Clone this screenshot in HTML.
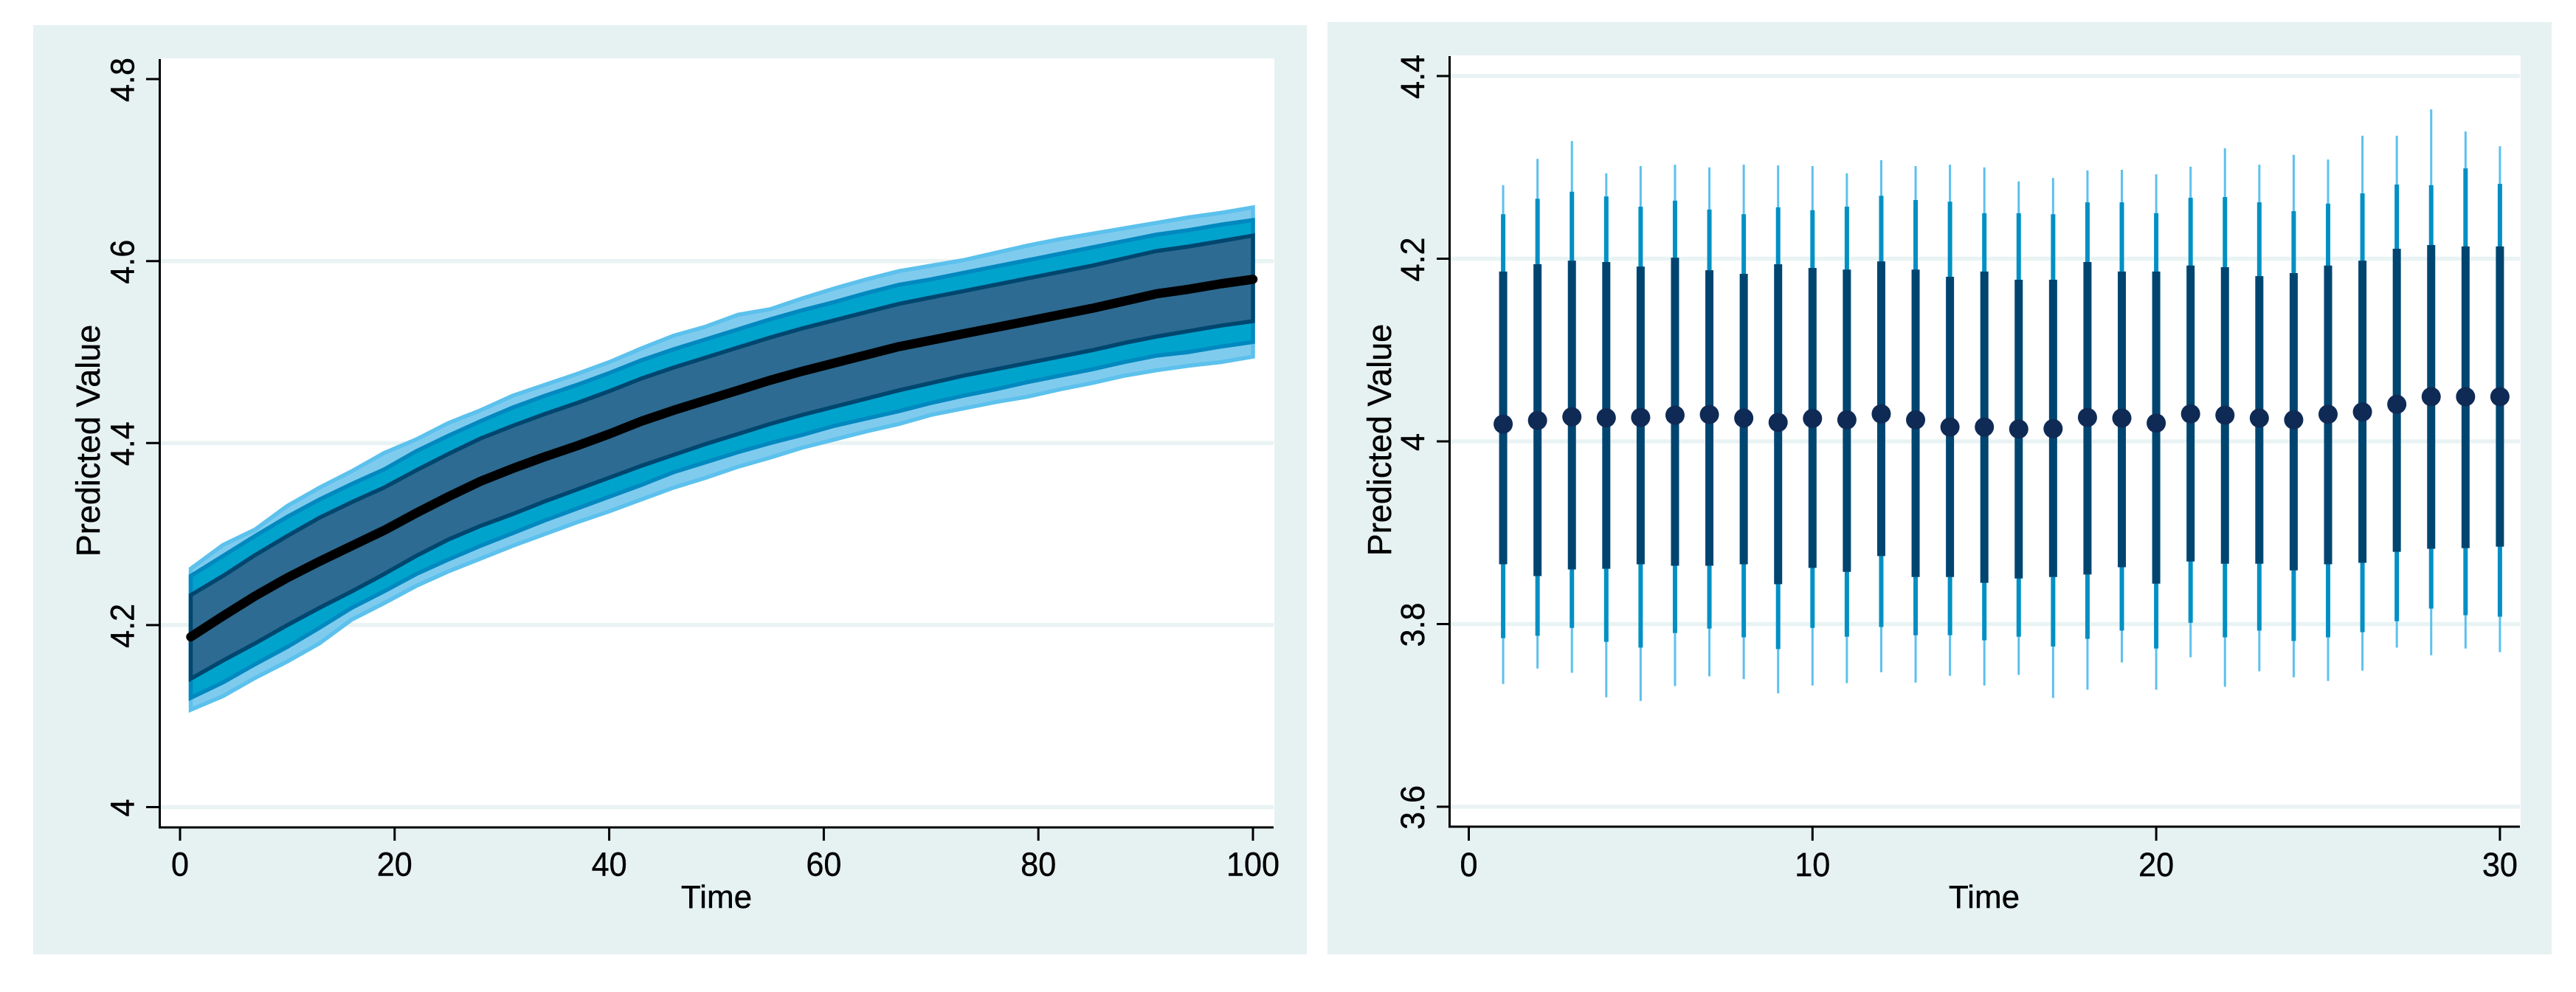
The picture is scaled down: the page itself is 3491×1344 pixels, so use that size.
<!DOCTYPE html>
<html lang="en">
<head>
<meta charset="utf-8">
<title>Predicted Value fan chart and interval chart</title>
<style>
html,body{margin:0;padding:0;background:#fff;}
svg{display:block;}
text{font-family:"Liberation Sans",Arial,sans-serif;fill:#000;stroke:#000;stroke-width:.4px;}
</style>
</head>
<body>
<svg id="chart" xmlns="http://www.w3.org/2000/svg" width="3491" height="1344" viewBox="0 0 3491 1344">
  <rect x="0" y="0" width="3491" height="1344" fill="#ffffff"/>
  <g id="left">
    <rect x="45" y="34" width="1726" height="1259" fill="#e6f1f1"/>
    <rect x="217" y="79" width="1510" height="1042" fill="#ffffff"/>
    <g id="left-grid"></g>
    <g id="left-marks"></g>
    <g id="left-axes"></g>
    <text transform="translate(135,597) rotate(-90)" text-anchor="middle" font-size="45">Predicted Value</text>
    <text x="971" y="1230" text-anchor="middle" font-size="44">Time</text>
  </g>
  <g id="right">
    <rect x="1799" y="30" width="1659" height="1263" fill="#e6f1f1"/>
    <rect x="1965" y="75" width="1451" height="1045" fill="#ffffff"/>
    <g id="right-grid"></g>
    <g id="right-marks"></g>
    <g id="right-axes"></g>
    <text transform="translate(1885,596) rotate(-90)" text-anchor="middle" font-size="45">Predicted Value</text>
    <text x="2689" y="1230" text-anchor="middle" font-size="44">Time</text>
  </g>
</svg>
<script>
// ----- Left chart data -----
const fanTimes = [1,4,7,10,13,16,19,22,25,28,31,34,37,40,43,46,49,52,55,58,61,64,67,70,73,76,79,82,85,88,91,94,97,100];
const fanMedian = [4.187,4.210,4.232,4.252,4.270,4.287,4.304,4.323,4.341,4.358,4.372,4.385,4.397,4.410,4.424,4.436,4.447,4.458,4.469,4.479,4.488,4.497,4.506,4.513,4.520,4.527,4.534,4.541,4.548,4.556,4.564,4.569,4.575,4.580];
const fanOuterUpper = [4.262,4.288,4.305,4.331,4.351,4.369,4.389,4.404,4.422,4.436,4.452,4.464,4.476,4.489,4.504,4.518,4.528,4.541,4.547,4.559,4.570,4.580,4.589,4.595,4.601,4.609,4.617,4.624,4.630,4.636,4.642,4.648,4.653,4.659];
const fanMidUpper = [4.254,4.276,4.298,4.319,4.338,4.355,4.371,4.391,4.408,4.424,4.439,4.452,4.464,4.477,4.491,4.503,4.514,4.525,4.536,4.546,4.555,4.565,4.574,4.580,4.587,4.594,4.601,4.608,4.615,4.622,4.629,4.634,4.640,4.645];
const fanInnerUpper = [4.233,4.254,4.277,4.298,4.318,4.335,4.351,4.370,4.388,4.405,4.419,4.432,4.444,4.457,4.471,4.483,4.494,4.505,4.516,4.526,4.535,4.544,4.553,4.560,4.567,4.574,4.581,4.588,4.595,4.603,4.611,4.616,4.622,4.628];
const fanInnerLower = [4.141,4.161,4.180,4.200,4.219,4.237,4.256,4.276,4.294,4.309,4.322,4.336,4.349,4.362,4.375,4.387,4.399,4.410,4.421,4.431,4.440,4.449,4.458,4.466,4.474,4.481,4.488,4.495,4.502,4.510,4.517,4.523,4.529,4.534];
const fanMidLower = [4.120,4.137,4.157,4.176,4.197,4.219,4.237,4.256,4.272,4.287,4.301,4.315,4.328,4.341,4.354,4.368,4.379,4.390,4.400,4.409,4.419,4.427,4.435,4.444,4.452,4.459,4.467,4.474,4.481,4.489,4.496,4.500,4.506,4.511];
const fanOuterLower = [4.107,4.122,4.142,4.160,4.180,4.206,4.224,4.243,4.259,4.273,4.287,4.300,4.313,4.325,4.338,4.351,4.362,4.374,4.384,4.395,4.404,4.413,4.421,4.431,4.438,4.445,4.451,4.459,4.466,4.474,4.480,4.485,4.489,4.495];
const fanXTicks = [0,20,40,60,80,100];
const fanYTicks = [4,4.2,4.4,4.6,4.8];
const fanYTickLabels = ["4","4.2","4.4","4.6","4.8"];

// ----- Right chart data -----
const barTimes = [1,2,3,4,5,6,7,8,9,10,11,12,13,14,15,16,17,18,19,20,21,22,23,24,25,26,27,28,29,30];
const barPoint = [4.0189,4.0229,4.0269,4.0258,4.0262,4.0287,4.0294,4.0255,4.0208,4.0251,4.0236,4.0301,4.0236,4.0157,4.0157,4.0135,4.0139,4.0262,4.0255,4.0200,4.0301,4.0287,4.0255,4.0236,4.0297,4.0323,4.0406,4.0489,4.0489,4.0489];
const barLightTop = [4.2805,4.3093,4.3288,4.2935,4.3014,4.3029,4.3000,4.3029,4.3021,4.3014,4.2935,4.3079,4.3014,4.3029,4.3000,4.2845,4.2884,4.2967,4.2974,4.2924,4.3007,4.3209,4.3029,4.3137,4.3086,4.3346,4.3346,4.3635,4.3393,4.3231];
const barMidTop = [4.2487,4.2657,4.2733,4.2682,4.2570,4.2635,4.2538,4.2487,4.2563,4.2531,4.2570,4.2689,4.2642,4.2624,4.2498,4.2498,4.2487,4.2617,4.2617,4.2498,4.2668,4.2675,4.2617,4.2520,4.2603,4.2715,4.2812,4.2805,4.2989,4.2819];
const barDarkTop = [4.1860,4.1939,4.1979,4.1964,4.1914,4.2011,4.1874,4.1834,4.1939,4.1899,4.1881,4.1971,4.1881,4.1802,4.1860,4.1770,4.1770,4.1964,4.1860,4.1860,4.1925,4.1907,4.1809,4.1842,4.1925,4.1979,4.2109,4.2149,4.2134,4.2134];
const barDarkBottom = [3.8655,3.8525,3.8598,3.8605,3.8655,3.8638,3.8638,3.8655,3.8436,3.8615,3.8572,3.8744,3.8515,3.8515,3.8452,3.8499,3.8515,3.8542,3.8622,3.8442,3.8685,3.8661,3.8661,3.8588,3.8655,3.8671,3.8791,3.8824,3.8831,3.8847];
const barMidBottom = [3.7845,3.7872,3.7958,3.7805,3.7742,3.7902,3.7951,3.7855,3.7726,3.7958,3.7862,3.7968,3.7878,3.7878,3.7822,3.7862,3.7755,3.7838,3.7928,3.7732,3.8014,3.7855,3.7928,3.7815,3.7855,3.7911,3.8031,3.8170,3.8097,3.8081];
const barLightBottom = [3.7344,3.7513,3.7467,3.7198,3.7158,3.7321,3.7427,3.7397,3.7241,3.7327,3.7354,3.7473,3.7360,3.7433,3.7327,3.7443,3.7191,3.7281,3.7580,3.7281,3.7636,3.7314,3.7483,3.7417,3.7377,3.7490,3.7742,3.7659,3.7732,3.7692];
const barXTicks = [0,10,20,30];
const barYTicks = [3.6,3.8,4,4.2,4.4];
const barYTickLabels = ["3.6","3.8","4","4.2","4.4"];

// ----- Axis functions -----
function fanX(t){ return 244 + 14.54 * t; }
function fanY(v){ return 1093.5 - (v - 4) * 1233; }
function barX(t){ return 1990.5 + 46.58 * t; }
function barY(v){ return 598 - (v - 4) * 1237.5; }

const NS = "http://www.w3.org/2000/svg";
function make(tag, attrs, parent){
  const node = document.createElementNS(NS, tag);
  for (const key in attrs) node.setAttribute(key, attrs[key]);
  parent.appendChild(node);
  return node;
}
function bandPoints(upper, lower){
  const top = fanTimes.map((t, i) => fanX(t).toFixed(1) + "," + fanY(upper[i]).toFixed(1));
  const bottom = fanTimes.map((t, i) => fanX(t).toFixed(1) + "," + fanY(lower[i]).toFixed(1)).reverse();
  return top.concat(bottom).join(" ");
}
function linePoints(values){
  return fanTimes.map((t, i) => fanX(t).toFixed(1) + "," + fanY(values[i]).toFixed(1)).join(" ");
}

// ----- Left chart drawing -----
const leftGrid = document.getElementById("left-grid");
const leftMarks = document.getElementById("left-marks");
const leftAxes = document.getElementById("left-axes");

fanYTicks.forEach((v, i) => {
  if (v !== 4.8) {
    const grid = make("line", {x1: 217, x2: 1726, y1: fanY(v), y2: fanY(v), stroke: "#e9f3f3", "stroke-width": 5.5}, leftGrid);
    
    
  }
  const tick = make("line", {x1: 198, x2: 217, y1: fanY(v), y2: fanY(v), stroke: "#000", "stroke-width": 3}, leftAxes);
  
  
  const label = make("text", {transform: "translate(181.5," + (fanY(v) + 1) + ") rotate(-90) scale(.96,1)", "text-anchor": "middle", "font-size": 45}, leftAxes);
  label.textContent = fanYTickLabels[i];
  
  
});

const outerBand = make("polygon", {points: bandPoints(fanOuterUpper, fanOuterLower), fill: "#7fcbee", stroke: "#5cc1ec", "stroke-width": 5.5, "stroke-linejoin": "miter"}, leftMarks);


const midBand = make("polygon", {points: bandPoints(fanMidUpper, fanMidLower), fill: "#00a3cc", stroke: "#0088bf", "stroke-width": 5.5, "stroke-linejoin": "miter"}, leftMarks);


const innerBand = make("polygon", {points: bandPoints(fanInnerUpper, fanInnerLower), fill: "#2d6b92", stroke: "#00466f", "stroke-width": 5.5, "stroke-linejoin": "miter"}, leftMarks);


const medianLine = make("polyline", {points: linePoints(fanMedian), fill: "none", stroke: "#000", "stroke-width": 12.5, "stroke-linecap": "round", "stroke-linejoin": "round"}, leftMarks);



fanXTicks.forEach((t) => {
  const tick = make("line", {x1: fanX(t), x2: fanX(t), y1: 1121, y2: 1139, stroke: "#000", "stroke-width": 3}, leftAxes);
  
  
  const label = make("text", {transform: "translate(" + fanX(t) + ",1186.5) scale(.96,1)", "text-anchor": "middle", "font-size": 45}, leftAxes);
  label.textContent = String(t);
  
  
});
const leftYAxis = make("line", {x1: 216.5, x2: 216.5, y1: 80, y2: 1122.5, stroke: "#000", "stroke-width": 3}, leftAxes);


const leftXAxis = make("line", {x1: 215, x2: 1726, y1: 1121, y2: 1121, stroke: "#000", "stroke-width": 3}, leftAxes);



// ----- Right chart drawing -----
const rightGrid = document.getElementById("right-grid");
const rightMarks = document.getElementById("right-marks");
const rightAxes = document.getElementById("right-axes");

barYTicks.forEach((v, i) => {
  const grid = make("line", {x1: 1965, x2: 3415, y1: barY(v), y2: barY(v), stroke: "#e9f3f3", "stroke-width": 5.5}, rightGrid);
  
  
  const tick = make("line", {x1: 1947, x2: 1965, y1: barY(v), y2: barY(v), stroke: "#000", "stroke-width": 3}, rightAxes);
  
  
  const label = make("text", {transform: "translate(1930," + (barY(v) + 1) + ") rotate(-90) scale(.96,1)", "text-anchor": "middle", "font-size": 45}, rightAxes);
  label.textContent = barYTickLabels[i];
  
  
});

barTimes.forEach((t, i) => {
  const light = make("line", {x1: barX(t), x2: barX(t), y1: barY(barLightTop[i]), y2: barY(barLightBottom[i]), stroke: "#5dc1ee", "stroke-width": 3}, rightMarks);
  
  
  const mid = make("line", {x1: barX(t), x2: barX(t), y1: barY(barMidTop[i]), y2: barY(barMidBottom[i]), stroke: "#0090c4", "stroke-width": 6}, rightMarks);
  
  
  const dark = make("line", {x1: barX(t), x2: barX(t), y1: barY(barDarkTop[i]), y2: barY(barDarkBottom[i]), stroke: "#004570", "stroke-width": 11}, rightMarks);
  
  
  const dot = make("circle", {cx: barX(t), cy: barY(barPoint[i]), r: 13, fill: "#0f2a55"}, rightMarks);
  
  
});

barXTicks.forEach((t) => {
  const tick = make("line", {x1: barX(t), x2: barX(t), y1: 1120, y2: 1139, stroke: "#000", "stroke-width": 3}, rightAxes);
  
  
  const label = make("text", {transform: "translate(" + barX(t) + ",1187) scale(.96,1)", "text-anchor": "middle", "font-size": 45}, rightAxes);
  label.textContent = String(t);
  
  
});
const rightYAxis = make("line", {x1: 1964.5, x2: 1964.5, y1: 76, y2: 1121.5, stroke: "#000", "stroke-width": 3}, rightAxes);


const rightXAxis = make("line", {x1: 1963, x2: 3415, y1: 1120, y2: 1120, stroke: "#000", "stroke-width": 3}, rightAxes);


</script>
</body>
</html>
